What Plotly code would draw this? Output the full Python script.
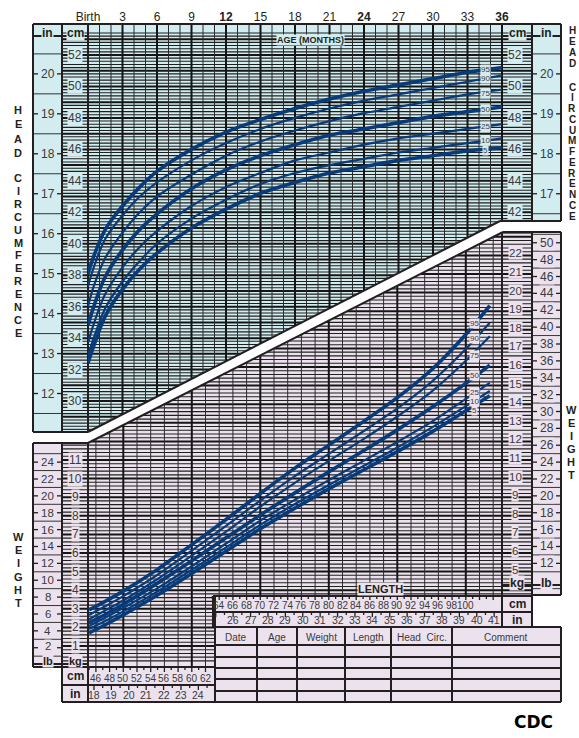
import numpy as np
import plotly.graph_objects as go

W, H = 579, 738
FONT = "Arial, Liberation Sans, sans-serif"
INK = "#231f20"
BLUE = "#d3ecef"
PINK = "#ece2ee"
CURVE = "#083b7a"

# ---------------- data ----------------
hc_age_months = [0, 0.5, 1.5, 3, 4.5, 6, 9, 12, 15, 18, 21, 24, 27, 30, 33, 36]
hc_p95 = [38.1, 39.2, 40.9, 42.4, 43.6, 44.6, 46.0, 47.1, 47.9, 48.6, 49.2, 49.7, 50.1, 50.5, 50.9, 51.2]
hc_p90 = [37.3, 38.5, 40.3, 41.8, 43.0, 43.9, 45.3, 46.4, 47.3, 48.0, 48.6, 49.1, 49.5, 49.9, 50.3, 50.7]
hc_p75 = [36.0, 37.3, 39.1, 40.7, 42.0, 43.0, 44.4, 45.6, 46.5, 47.2, 47.8, 48.3, 48.7, 49.1, 49.5, 49.8]
hc_p50 = [34.8, 36.0, 37.9, 39.6, 40.9, 41.9, 43.5, 44.7, 45.6, 46.3, 46.9, 47.3, 47.7, 48.1, 48.4, 48.7]
hc_p25 = [33.7, 34.9, 36.8, 38.5, 39.8, 40.8, 42.4, 43.6, 44.5, 45.3, 45.8, 46.3, 46.7, 47.0, 47.3, 47.6]
hc_p10 = [32.9, 34.0, 35.9, 37.6, 38.9, 40.0, 41.6, 42.8, 43.8, 44.5, 45.0, 45.4, 45.8, 46.1, 46.4, 46.7]
hc_p5 = [32.4, 33.5, 35.4, 37.1, 38.4, 39.4, 41.0, 42.2, 43.2, 43.9, 44.5, 44.9, 45.3, 45.6, 45.9, 46.1]

wfl_length_cm = [45, 47.5, 50, 55, 60, 65, 70, 75, 80, 85, 90, 95, 100, 103.5]
wfl_p95 = [2.94, 3.43, 3.95, 5.12, 6.45, 7.80, 9.20, 10.55, 11.80, 13.05, 14.35, 15.85, 17.75, 19.30]
wfl_p90 = [2.67, 3.16, 3.68, 4.83, 6.13, 7.46, 8.82, 10.12, 11.33, 12.53, 13.77, 15.20, 16.97, 18.38]
wfl_p75 = [2.44, 2.94, 3.45, 4.60, 5.86, 7.15, 8.50, 9.76, 10.95, 12.11, 13.34, 14.68, 16.34, 17.65]
wfl_p50 = [2.25, 2.72, 3.24, 4.38, 5.58, 6.82, 8.04, 9.22, 10.36, 11.48, 12.62, 13.82, 15.12, 16.10]
wfl_p25 = [2.08, 2.55, 3.04, 4.11, 5.29, 6.51, 7.74, 8.85, 9.92, 10.94, 11.97, 13.05, 14.29, 15.15]
wfl_p10 = [1.91, 2.37, 2.86, 3.93, 5.10, 6.30, 7.51, 8.62, 9.66, 10.66, 11.67, 12.74, 13.90, 14.71]
wfl_p5 = [1.70, 2.17, 2.67, 3.74, 4.90, 6.10, 7.30, 8.40, 9.45, 10.45, 11.45, 12.50, 13.65, 14.45]

percentile_names = ["95", "90", "75", "50", "25", "10", "5"]
percentile_widths = [3.6, 2.2, 2.2, 3.6, 2.2, 2.2, 3.6]
hc_label_dy_cm = [0, 0, -0.12, 0, 0, 0, -0.08]
wfl_label_dy_kg = [0, 0.05, -0.22, 0.05, 0.03, -0.06, -0.3]

age_tick_vals = [0, 3, 6, 9, 12, 15, 18, 21, 24, 27, 30, 33, 36]
age_tick_text = ["Birth", "3", "6", "9", "<b>12</b>", "15", "18", "21", "<b>24</b>", "27", "30", "33", "<b>36</b>"]
hc_cm_left_ticks = [30, 32, 34, 36, 38, 40, 42, 44, 46, 48, 50, 52]
hc_cm_right_ticks = [42, 44, 46, 48, 50, 52]
hc_in_left_ticks = [12, 13, 14, 15, 16, 17, 18, 19, 20]
hc_in_right_ticks = [17, 18, 19, 20]
wt_kg_left_ticks = [1, 2, 3, 4, 5, 6, 7, 8, 9, 10, 11]
wt_lb_left_ticks = [2, 4, 6, 8, 10, 12, 14, 16, 18, 20, 22, 24]
wt_kg_right_ticks = [5, 6, 7, 8, 9, 10, 11, 12, 13, 14, 15, 16, 17, 18, 19, 20, 21, 22]
wt_lb_right_ticks = [12, 14, 16, 18, 20, 22, 24, 26, 28, 30, 32, 34, 36, 38, 40, 42, 44, 46, 48, 50]
len_cm_low_ticks = [46, 48, 50, 52, 54, 56, 58, 60, 62]
len_in_low_ticks = [18, 19, 20, 21, 22, 23, 24]
len_cm_up_ticks = [64, 66, 68, 70, 72, 74, 76, 78, 80, 82, 84, 86, 88, 90, 92, 94, 96, 98, 100]
len_in_up_ticks = [26, 27, 28, 29, 30, 31, 32, 33, 34, 35, 36, 37, 38, 39, 40, 41]
table_headers = ["Date", "Age", "Weight", "Length", "Head  Circ.", "Comment"]
table_col_edges = [215, 257, 297, 345, 391, 452, 560]

# ---------------- pixel mapping (chart layout) ----------------
def mx(m): return 88 + m * 11.5
def cy(cm): return 55 + (52 - cm) * 15.73
def lx(L): return 123.3 + (L - 50) * 6.85
def ky(kg): return 460 + (11 - kg) * 18.6
def inv_cy(py): return 52 - (py - 55) / 15.73
def inv_lx(px): return 50 + (px - 123.3) / 6.85
def inv_ky(py): return 11 - (py - 460) / 18.6
def ux(y): return 88 + (432 - y) * 412 / 211     # upper diagonal
def uy(x): return 432 - (x - 88) * 211 / 412
def dx(y): return 88 + (443 - y) * 415 / 211     # lower diagonal
def dy(x): return 443 - (x - 88) * 211 / 415

fig = go.Figure()

def poly(pts, color):
    xs = [p[0] for p in pts] + [pts[0][0]]
    ys = [p[1] for p in pts] + [pts[0][1]]
    fig.add_trace(go.Scatter(x=xs, y=ys, fill="toself", fillcolor=color, mode="lines",
                             line=dict(width=0), hoverinfo="skip", xaxis="x", yaxis="y"))

def segs(lst, width, color=INK):
    xs, ys = [], []
    for (x0, y0, x1, y1) in lst:
        xs += [x0, x1, None]
        ys += [y0, y1, None]
    fig.add_trace(go.Scatter(x=xs, y=ys, mode="lines", line=dict(color=color, width=width),
                             hoverinfo="skip", xaxis="x", yaxis="y"))

def rect(x0, y0, x1, y1):
    return [(x0, y0), (x1, y0), (x1, y1), (x0, y1)]

# backgrounds
poly([(33, 24), (561, 24), (561, 221), (500, 221), (88, 432), (33, 432)], BLUE)
poly([(33, 443), (88, 443), (503, 232), (561, 232), (561, 595), (215, 595), (215, 667), (33, 667)], PINK)
poly(rect(62, 667, 215, 702), PINK)
poly(rect(213, 596, 532, 627), PINK)
poly(rect(215, 627, 561, 702), PINK)

# top hatch
tmin, tmaj = [], []
for t in range(282, 540, 2):
    py = cy(t / 10)
    if py < 32 or py > 431:
        continue
    right = 532 if py <= 221 else ux(py)
    (tmaj if t % 10 == 0 else tmin).append((62, py, right, py))
# bottom hatch
bmin, bmaj = [], []
for t in range(2, 234, 2):
    py = ky(t / 10)
    if py < 233 or py > 666:
        continue
    left = 62 if py >= 443 else dx(py)
    right = 532 if py <= 595 else 215
    (bmaj if t % 10 == 0 else bmin).append((left, py, right, py))
segs(tmin + bmin, 1.1, "#1f1f1f")
segs(tmaj + bmaj, 2.0, "#151515")

# vertical grid
vthin, vthick = [], []
for m in range(0, 37):
    x = mx(m)
    (vthick if m % 3 == 0 else vthin).append((x, 24, x, uy(x)))
for L in range(46, 105, 2):
    x = lx(L)
    bot = 667 if x < 215 else 595
    (vthick if L % 10 == 0 else vthin).append((x, dy(x), x, bot))
segs(vthin, 1.0, "#2a2a2a")
segs(vthick, 2.0, "#151515")

# inch / lb columns
colmin, colticks = [], []
for h in range(23, 42, 2):
    py = cy(h / 2 * 2.54)
    if 32 < py < 432:
        colmin.append((33, py, 62, py))
    if 32 < py < 221:
        colmin.append((532, py, 561, py))
for v in hc_in_left_ticks:
    py = cy(v * 2.54)
    colticks += [(33, py, 38, py), (57, py, 62, py)]
for v in hc_in_right_ticks:
    py = cy(v * 2.54)
    colticks += [(532, py, 537, py), (556, py, 561, py)]
for lb in range(1, 52, 2):
    py = ky(lb * 0.45359)
    if 443 < py < 667:
        colmin.append((33, py, 62, py))
    if 232 < py < 595:
        colmin.append((532, py, 561, py))
for v in wt_lb_left_ticks:
    py = ky(v * 0.45359)
    colticks += [(33, py, 38, py), (57, py, 62, py)]
for v in wt_lb_right_ticks:
    py = ky(v * 0.45359)
    colticks += [(532, py, 537, py), (556, py, 561, py)]
# length scale ticks
for c in range(45, 63):
    x = lx(c)
    if x > 63:
        colticks.append((x, 667, x, 670 if c % 2 else 672))
for i2 in range(36, 50):
    x = lx(i2 / 2 * 2.54)
    if 88 < x < 215:
        colticks.append((x, 685, x, 688 if i2 % 2 else 690))
for c in range(63, 105):
    x = lx(c)
    colticks.append((x, 596, x, 599 if c % 2 else 600))
for i2 in range(50, 84):
    x = lx(i2 / 2 * 2.54)
    if x < 501:
        colticks.append((x, 612, x, 615 if i2 % 2 else 617))
segs(colmin, 1.0, "#333333")
segs(colticks, 1.3, INK)

# borders
borders = []
def pl(pts):
    for a, b in zip(pts[:-1], pts[1:]):
        borders.append((a[0], a[1], b[0], b[1]))
pl([(33, 432), (33, 24), (561, 24), (561, 221), (500, 221), (88, 432), (33, 432)])
pl([(62, 24), (62, 432)]); pl([(88, 24), (88, 432)]); pl([(532, 24), (532, 221)])
pl([(33, 667), (33, 443), (88, 443), (503, 232), (561, 232), (561, 595), (532, 595)])
pl([(62, 443), (62, 702)]); pl([(88, 443), (88, 702)]); pl([(215, 595), (215, 702)])
pl([(502, 232), (502, 627)]); pl([(532, 232), (532, 627)])
pl([(33, 667), (215, 667)]); pl([(62, 685), (215, 685)]); pl([(62, 702), (215, 702)])
pl([(213, 596), (532, 596)]); pl([(213, 612), (532, 612)]); pl([(213, 596), (213, 627)])
pl([(215, 627), (561, 627), (561, 702), (215, 702)])
for yy in [645, 657, 668, 679, 691]:
    pl([(215, yy), (561, yy)])
for xx in table_col_edges[1:-1]:
    pl([(xx, 627), (xx, 702)])
pl([(33, 36), (62, 36)]); pl([(62, 36), (88, 36)])
pl([(502, 36), (532, 36)]); pl([(532, 36), (561, 36)])
pl([(33, 664), (62, 664)]); pl([(62, 664), (88, 664)])
pl([(502, 585), (532, 585)]); pl([(532, 585), (561, 585)])
segs(borders, 2.0, INK)

# ---------------- data curves ----------------
hc_series = [hc_p95, hc_p90, hc_p75, hc_p50, hc_p25, hc_p10, hc_p5]
wfl_series = [wfl_p95, wfl_p90, wfl_p75, wfl_p50, wfl_p25, wfl_p10, wfl_p5]
for name, vals, w in zip(percentile_names, hc_series, percentile_widths):
    fig.add_trace(go.Scatter(x=hc_age_months, y=vals, mode="lines", name="HC " + name,
                             line=dict(color=CURVE, width=w, shape="spline", smoothing=1.0),
                             xaxis="x2", yaxis="y2", hoverinfo="skip"))
for name, vals, w in zip(percentile_names, wfl_series, percentile_widths):
    fig.add_trace(go.Scatter(x=wfl_length_cm, y=vals, mode="lines", name="WFL " + name,
                             line=dict(color=CURVE, width=w, shape="spline", smoothing=0.8),
                             xaxis="x3", yaxis="y3", hoverinfo="skip"))

# ---------------- annotations ----------------
ann = []
def A(x, y, text, size=12, bold=False, bg=None, color=INK, xref="x", yref="y",
      xanchor="center", family=FONT):
    d = dict(x=x, y=y, xref=xref, yref=yref, text=("<b>%s</b>" % text) if bold else text,
             showarrow=False, font=dict(size=size, color=color, family=family),
             borderpad=0, xanchor=xanchor, yanchor="middle")
    if bg:
        d["bgcolor"] = bg
    ann.append(d)

LBL = "#3a3a3a"
for v in hc_cm_left_ticks:
    A(75, cy(v), str(v), 12, bg=BLUE, color=LBL)
for v in hc_cm_right_ticks:
    A(515, cy(v), str(v), 12, bg=BLUE, color=LBL)
for v in hc_in_left_ticks:
    A(47.5, cy(v * 2.54), str(v), 12, bg=BLUE, color=LBL)
for v in hc_in_right_ticks:
    A(546.5, cy(v * 2.54), str(v), 12, bg=BLUE, color=LBL)
for v in wt_kg_left_ticks:
    A(75, ky(v), str(v), 12, bg=PINK, color=LBL)
for v in wt_lb_left_ticks:
    A(47.5, ky(v * 0.45359) - (1.5 if v == 2 else 0), str(v), 11.5, bg=PINK, color=LBL)
for v in wt_kg_right_ticks:
    A(515, ky(v) - 2, str(v), 11.5, bg=PINK, color=LBL)
for v in wt_lb_right_ticks:
    A(546.5, ky(v * 0.45359), str(v), 12, bg=PINK, color=LBL)
for v in len_cm_low_ticks:
    A(lx(v), 678, str(v), 10, color=LBL)
for v in len_in_low_ticks:
    A(lx(v * 2.54), 695, str(v), 10.5, color=LBL)
for v in len_cm_up_ticks:
    A(lx(v), 605, str(v), 10, color=LBL)
for v in len_in_up_ticks:
    A(lx(v * 2.54), 620, str(v), 10.5, color=LBL)

A(47.5, 33, "in", 12, bold=True, bg=BLUE)
A(75, 33, "cm", 12, bold=True, bg=BLUE)
A(517, 33, "cm", 12, bold=True, bg=BLUE)
A(546.5, 33, "in", 12, bold=True, bg=BLUE)
A(47.5, 661, "lb", 11, bold=True, bg=PINK)
A(75, 661, "kg", 11, bold=True, bg=PINK)
A(517, 583, "kg", 12, bold=True, bg=PINK)
A(546.5, 583, "lb", 12, bold=True, bg=PINK)
A(517, 604, "cm", 12, bold=True)
A(517, 620, "in", 12, bold=True)
A(75, 676, "cm", 12, bold=True)
A(75, 694, "in", 12, bold=True)
A(310, 40, "AGE (MONTHS)", 9, bold=True, bg=BLUE)
A(380, 589, "LENGTH", 11, bold=True, bg=PINK)
for name, lo, hi in zip(table_headers, table_col_edges[:-1], table_col_edges[1:]):
    A((lo + hi) / 2, 637, name, 10, color=LBL)

# percentile labels on the curves
hc_label_age = 34.6
for name, vals, d in zip(percentile_names, hc_series, hc_label_dy_cm):
    A(hc_label_age, float(np.interp(hc_label_age, hc_age_months, vals)) + d, name, 8,
      bg=BLUE, color=LBL, xref="x2", yref="y2")
wfl_label_len = 101.3
for name, vals, d in zip(percentile_names, wfl_series, wfl_label_dy_kg):
    A(wfl_label_len, float(np.interp(wfl_label_len, wfl_length_cm, vals)) + d, name, 8,
      bg=PINK, color=LBL, xref="x3", yref="y3")

# vertical titles
def vtitle(word_groups, x, starts, steps, size):
    for word, y0, st in zip(word_groups, starts, steps):
        for i, ch in enumerate(word):
            A(x, y0 + i * st, ch, size, bold=True)
vtitle(["HEAD", "CIRCUMFERENCE"], 18, [110, 178], [14.3, 12.9], 11)
vtitle(["HEAD", "CIRCUMFERENCE"], 572, [30, 87], [11, 10.75], 10)
vtitle(["WEIGHT"], 18, [537], [13.2], 11)
vtitle(["WEIGHT"], 571, [410], [12.9], 11)

ann.append(dict(x=533, y=722, xref="x", yref="y", text="<b>CDC</b>", showarrow=False,
                font=dict(size=17, color="black", family="DejaVu Sans, sans-serif"),
                xanchor="center", yanchor="middle"))

fig.update_layout(
    width=W, height=H, margin=dict(l=0, r=0, t=0, b=0, pad=0, autoexpand=False),
    paper_bgcolor="white", plot_bgcolor="rgba(0,0,0,0)", showlegend=False,
    xaxis=dict(domain=[0, 1], range=[0, W], visible=False, fixedrange=True, automargin=False),
    yaxis=dict(domain=[0, 1], range=[H, 0], visible=False, fixedrange=True, automargin=False),
    xaxis2=dict(domain=[88 / W, 502 / W], range=[0, 36], anchor="y2", side="top",
                tickvals=age_tick_vals, ticktext=age_tick_text, ticks="", showgrid=False,
                zeroline=False, showline=False, tickfont=dict(size=12, color=INK, family=FONT),
                fixedrange=True, automargin=False),
    yaxis2=dict(domain=[1 - 432 / H, 1 - 24 / H], range=[inv_cy(432), inv_cy(24)], anchor="x2",
                visible=False, fixedrange=True, automargin=False),
    xaxis3=dict(domain=[88 / W, 502 / W], range=[inv_lx(88), inv_lx(502)], anchor="y3",
                visible=False, fixedrange=True, automargin=False),
    yaxis3=dict(domain=[1 - 667 / H, 1 - 232 / H], range=[inv_ky(667), inv_ky(232)], anchor="x3",
                visible=False, fixedrange=True, automargin=False),
    annotations=ann,
)
fig.write_html("out.html", config={"displayModeBar": False},
               post_script="document.body.style.margin='0';document.body.style.padding='0';"
                           "document.body.style.overflow='hidden';")
